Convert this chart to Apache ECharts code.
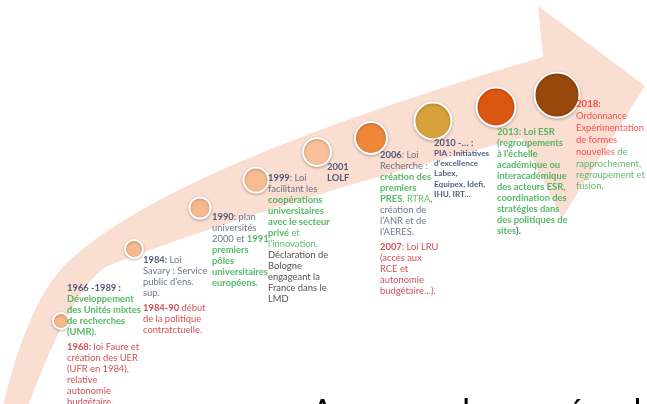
<!DOCTYPE html>
<html><head><meta charset="utf-8">
<script src="https://cdn.jsdelivr.net/npm/echarts@6/dist/echarts.min.js"></script>
<style>html,body{margin:0;padding:0;background:#fff}#c{width:647px;height:404px}</style>
</head><body><div id="c"></div>
<script>
// ---- data ----
const years = ['1966','1984','1990','1999','2001','2006','2010','2013','2018'];
const timeX = [61, 134, 200, 256, 317, 371, 433, 496, 557];
const timeY = [321, 249, 208, 180, 152, 138, 121, 107, 95];
const notes = [
  '{y|1966 -1989 :}\n{g|Développement}\n{g|des Unités mixtes}\n{g|de recherches}\n{g|(UMR).}\n{sp| }\n{rb|1968:}{r| loi Faure et}\n{r|création des UER}\n{r|(UFR en 1984),}\n{r|relative}\n{r|autonomie}\n{r|budgétaire.}',
  '{y|1984:}{n| Loi}\n{n|Savary : Service}\n{n|public d’ens.}\n{n|sup.}\n{sp| }\n{rb|1984-90}{r| début}\n{r|de la politique}\n{r|contratctuelle.}',
  '{y|1990}{n|: plan}\n{n|universités}\n{n|2000 et }{g|1991}\n{g|premiers}\n{g|pôles}\n{g|universitaires}\n{g|européens.}',
  '{y|1999}{n|: Loi}\n{n|facilitant les}\n{g|coopérations}\n{g|universitaires}\n{g|avec le secteur}\n{g|privé}{gn| et}\n{gn|l’innovation.}\n{k|Déclaration de}\n{k|Bologne}\n{k|engageant la}\n{k|France dans le}\n{k|LMD}',
  '{y|2001}\n{y|LOLF}',
  '{y|2006}{n|: Loi}\n{n|Recherche :}\n{g|création des}\n{g|premiers}\n{g|PRES}{gn|, RTRA}{n|,}\n{n|création de}\n{n|l’ANR et de}\n{n|l’AERES.}\n{sp| }\n{rb|2007}{r|: Loi LRU}\n{r|(accès aux}\n{r|RCE et}\n{r|autonomie}\n{r|budgétaire…).}',
  '{y|2010 -… :}\n{ys|PIA : Initiatives}\n{ys|d’excellence}\n{ys|Labex,}\n{ys|Equipex, Idefi,}\n{ys|IHU, IRT…}',
  '{g|2013: Loi ESR}\n{g|(regroupements}\n{g|à l’échelle}\n{g|académique ou}\n{g|interacadémique}\n{g|des acteurs ESR,}\n{g|coordination des}\n{g|stratégies dans}\n{g|des politiques de}\n{g|sites}{y|).}',
  '{Rb|2018:}\n{R|Ordonnance}\n{R|Expérimentation}\n{R|de formes}\n{R|nouvelles}{gn| de}\n{gn|rapprochement,}\n{gn|regroupement et}\n{gn|fusion}{R|.}'
];
const footerText = 'Au cours des années, les établissements';

// ---- layout / style ----
const dotSize = [16, 18, 21, 25, 28, 32, 37, 39, 45];
const dotColor = ['#F6B98A','#F7BA8C','#F6B98B','#F7BD92','#F8C19A','#EF873A','#D8A23B','#DB5611','#97480A'];
const noteAnchor = [[67,282],[143,254],[212,211],[268,172],[327,161],[380,149],[434,137],[497,126],[576,98]];
const FF = 'Lato, "Open Sans", sans-serif';
const LH = 11;
const rich = {
  y:{fontFamily:FF,fontSize:9.4,fontWeight:'bold',color:'#27365F',lineHeight:LH},
  n:{fontFamily:FF,fontSize:9.4,color:'#48526F',lineHeight:LH},
  g:{fontFamily:FF,fontSize:9.4,fontWeight:'bold',color:'#2AA745',lineHeight:LH},
  gn:{fontFamily:FF,fontSize:9.4,color:'#37AE4C',lineHeight:LH},
  r:{fontFamily:FF,fontSize:9.4,color:'#C3242D',lineHeight:LH},
  rb:{fontFamily:FF,fontSize:9.4,fontWeight:'bold',color:'#C3242D',lineHeight:LH},
  k:{fontFamily:FF,fontSize:9.4,color:'#1E1E1E',lineHeight:LH},
  R:{fontFamily:FF,fontSize:9.4,color:'#FF2828',lineHeight:12},
  Rb:{fontFamily:FF,fontSize:9.6,fontWeight:'bold',color:'#FF1A1A',lineHeight:12},
  ys:{fontFamily:FF,fontSize:8.2,fontWeight:'bold',color:'#27365F',lineHeight:10.3},
  sp:{fontSize:4,lineHeight:4}
};
// arrow outline (shape in chart units)
const arrowPath = [
  ['M',3,406],['Q',28,300,68,262],['Q',168,167,543,57],
  ['L',538,6],['L',645,86],['L',562,218],['L',522,138],
  ['Q',280,200,110,265],['Q',75,280,28,406],['Z']
];

const chart = echarts.init(document.getElementById('c'));
chart.setOption({
  animation:false,
  title:{text:footerText,left:311,top:396,padding:0,textStyle:{fontFamily:FF,fontSize:34,lineHeight:34,fontWeight:'normal',color:'#000'}},
  grid:{left:0,right:0,top:0,bottom:0},
  xAxis:{type:'value',min:0,max:647,show:false},
  yAxis:{type:'value',min:0,max:404,inverse:true,show:false},
  series:[
    {
      type:'custom', z:1, silent:true,
      data:[[0,0]],
      renderItem:function(params, api){
        let d='';
        arrowPath.forEach(s=>{
          d+=s[0];
          for(let i=1;i<s.length;i+=2){const p=api.coord([s[i],s[i+1]]);d+=' '+p[0].toFixed(1)+' '+p[1].toFixed(1);}
          d+=' ';
        });
        return {type:'path',shape:{pathData:d},style:{fill:'#FBDED2',stroke:null}};
      }
    },
    {
      type:'scatter', z:3, symbol:'circle',
      data: years.map((yr,i)=>({name:yr,value:[timeX[i],timeY[i]],symbolSize:dotSize[i],
        itemStyle:{color:dotColor[i]}})),
      itemStyle:{borderColor:'#fff',borderWidth:2,shadowBlur:3,shadowColor:'rgba(0,0,0,0.25)',shadowOffsetY:1,opacity:1}
    },
    {
      type:'scatter', z:4, symbolSize:0, silent:true,
      itemStyle:{color:'transparent'},
      data: years.map((yr,i)=>({name:yr,value:noteAnchor[i],
        label:{show:true,formatter:notes[i],position:[0,0],align:'left',verticalAlign:'top',rich:rich}}))
    }
  ]
});
</script></body></html>
